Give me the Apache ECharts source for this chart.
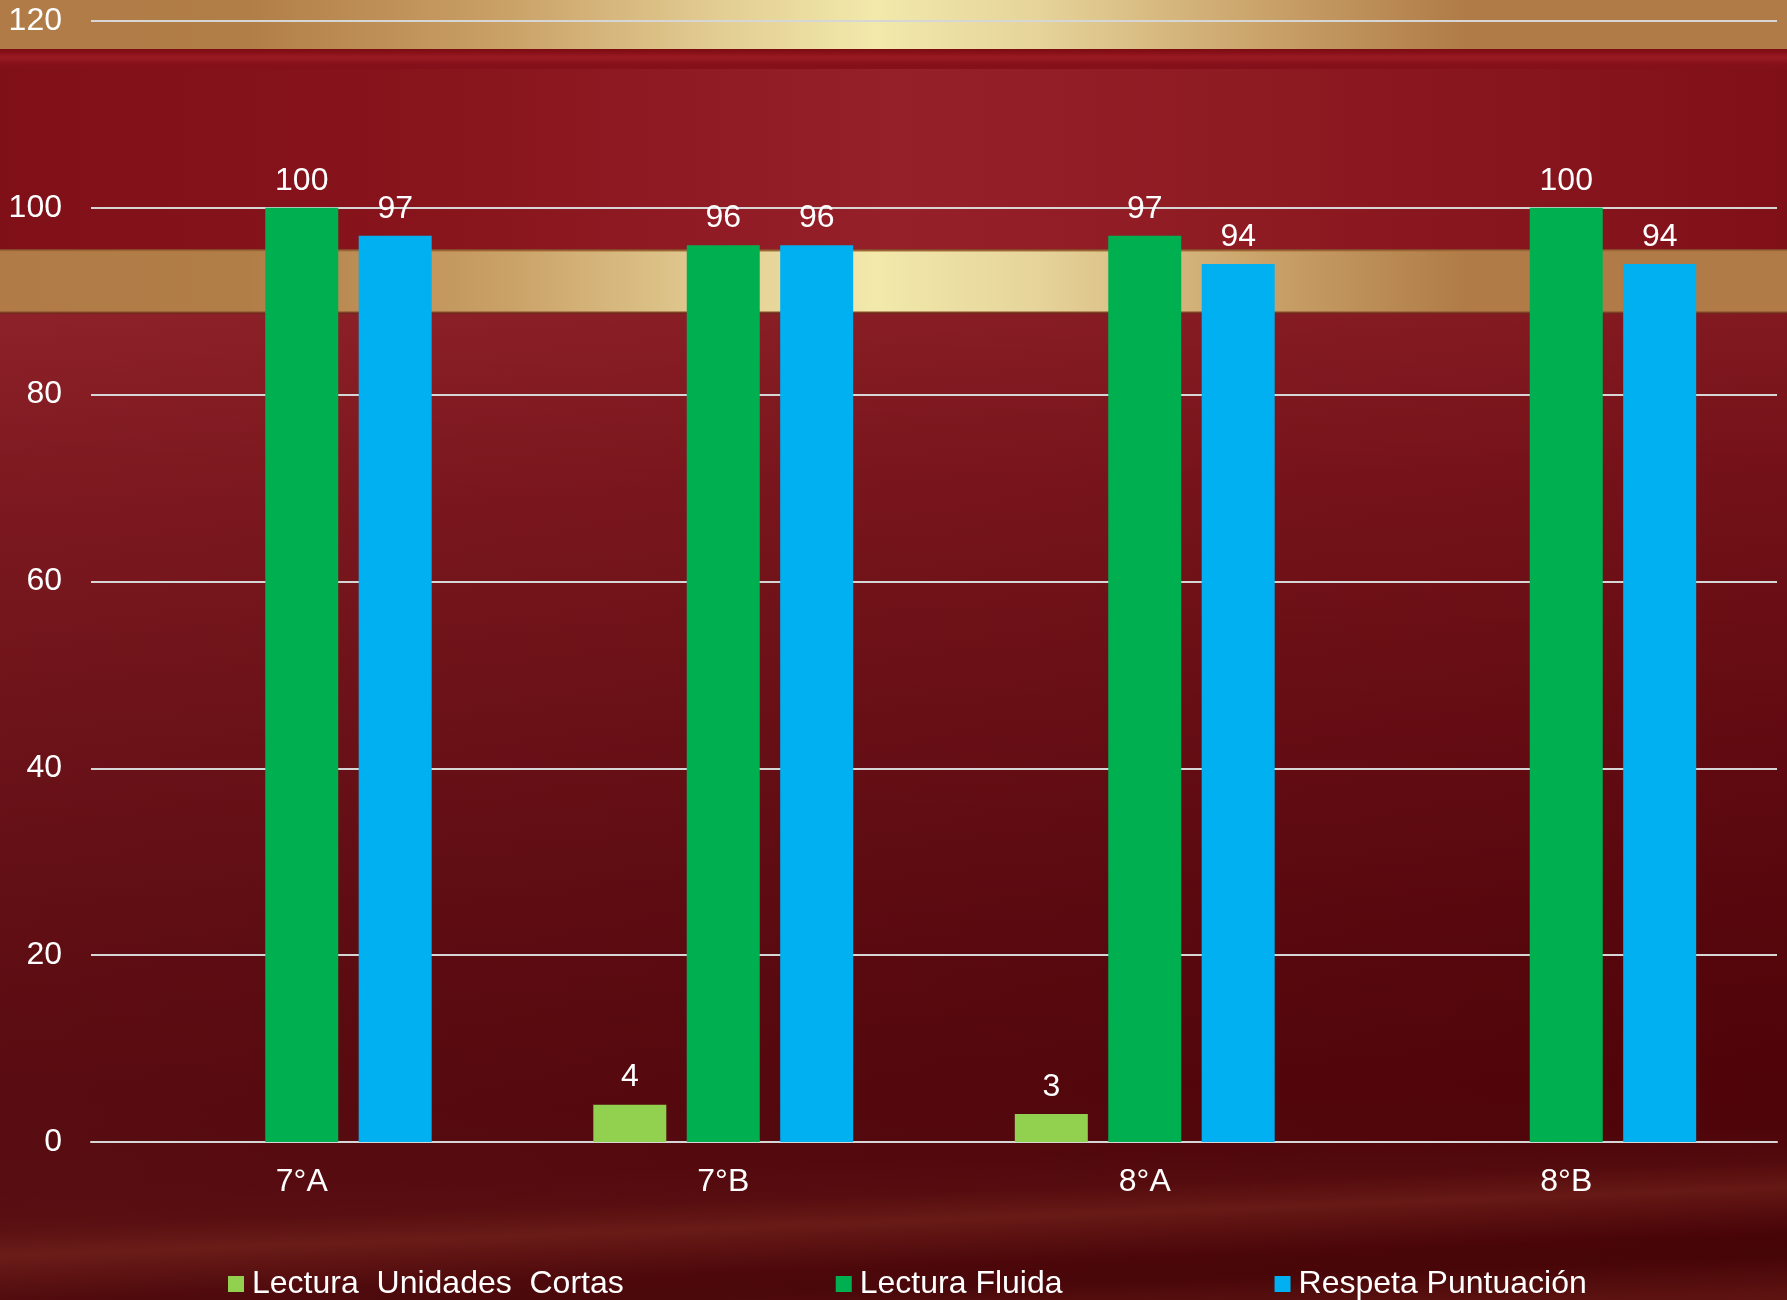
<!DOCTYPE html>
<html>
<head>
<meta charset="utf-8">
<script src="https://cdn.jsdelivr.net/npm/echarts@6/dist/echarts.min.js"></script>
<style>
html,body{margin:0;padding:0;width:1787px;height:1300px;overflow:hidden;position:relative;}
#bg{position:absolute;left:0;top:0;width:1787px;height:1300px;overflow:hidden;
background:
 linear-gradient(to right,#b07b46 0%,#b27e48 14%,#c9a066 28%,#e2cc92 40%,#f2e9ab 49%,#e6d49a 58%,#cba56c 70%,#b07b46 82%,#b07b46 100%) 0 0/100% 49px no-repeat,
 linear-gradient(to bottom,#7a0c12 0,#8a1119 4px,#9a1a22 8px,#84101a 16px,#84101a 100%) 0 49px/100% 20px no-repeat,
 linear-gradient(to bottom,#7a3a20 0,#a8733f 2px,transparent 3px,transparent 62px,#8a4a2a 63px,#6b1a18 65px) 0 249px/100% 65px no-repeat,
 linear-gradient(to right,#b07b46 0%,#b27e48 14%,#c9a066 28%,#e2cc92 40%,#f2e9ab 49%,#e6d49a 58%,#cba56c 70%,#b07b46 82%,#b07b46 100%) 0 249px/100% 65px no-repeat,
 linear-gradient(to right,#801018 0%,#88141c 25%,#96202a 50%,#8e1a22 70%,#801018 100%) 0 69px/100% 180px no-repeat,
 linear-gradient(to right,rgba(255,255,255,0.03) 0%,rgba(0,0,0,0.06) 100%) 0 314px/100% 986px no-repeat,
 linear-gradient(to bottom,#8a1a22 314px,#7a1219 480px,#6a0c13 700px,#5c070d 900px,#540409 1080px,#52050a 1160px,#520608 1300px);
}
#streak{position:absolute;left:-80px;top:1100px;width:1947px;height:270px;transform:rotate(-2.2deg);transform-origin:50% 50%;
background:linear-gradient(to bottom,rgba(0,0,0,0) 0%,rgba(0,0,0,0) 22%,rgba(100,26,22,0.25) 35%,rgba(126,44,32,0.5) 45%,rgba(110,34,26,0.3) 53%,rgba(50,0,4,0.2) 62%,rgba(40,0,2,0.2) 70%,rgba(110,36,28,0.35) 82%,rgba(122,42,30,0.45) 90%,rgba(122,42,30,0.45) 100%);}
#main{position:absolute;left:0;top:0;width:1787px;height:1300px;}
</style>
</head>
<body>
<div id="bg"><div id="streak"></div></div>
<div id="main"></div>
<script>
var categories = ['7°A', '7°B', '8°A', '8°B'];
var seriesNames = ['Lectura  Unidades  Cortas', 'Lectura Fluida', 'Respeta Puntuación'];
var lecturaUnidadesCortas = [null, 4, 3, null];
var lecturaFluida = [100, 96, 97, 100];
var respetaPuntuacion = [97, 96, 94, 94];
var yTicks = [0, 20, 40, 60, 80, 100, 120];

var FONT = "'Liberation Sans', Arial, sans-serif";
var chart = echarts.init(document.getElementById('main'), null, {renderer: 'canvas'});

function mkSeries(name, data, color) {
  return {
    name: name,
    type: 'bar',
    data: data,
    barWidth: 73,
    barGap: '28%',
    itemStyle: {color: color},
    label: {
      show: true,
      position: 'top',
      distance: 11,
      color: '#ffffff',
      fontSize: 32,
      fontFamily: FONT
    }
  };
}

chart.setOption({
  backgroundColor: 'transparent',
  animation: false,
  textStyle: {fontFamily: FONT},
  grid: {left: 91, right: 10, top: 21, bottom: 158, containLabel: false},
  legend: {
    data: seriesNames,
    left: 228,
    top: 1268,
    padding: 0,
    itemWidth: 16,
    itemHeight: 16,
    itemGap: 212,
    icon: 'rect',
    textStyle: {color: '#ffffff', fontSize: 32, fontFamily: FONT, padding: [0, 0, 0, 3]}
  },
  xAxis: {
    type: 'category',
    data: categories,
    axisLine: {show: true, lineStyle: {color: '#d6d6d6', width: 2}},
    axisTick: {show: false},
    axisLabel: {color: '#ffffff', fontSize: 32, fontFamily: FONT, margin: 24}
  },
  yAxis: {
    type: 'value',
    min: yTicks[0],
    max: yTicks[yTicks.length - 1],
    interval: 20,
    axisLine: {show: false},
    axisTick: {show: false},
    axisLabel: {color: '#ffffff', fontSize: 32, fontFamily: FONT, margin: 29},
    splitLine: {show: true, lineStyle: {color: '#d6d6d6', width: 2}}
  },
  series: [
    mkSeries(seriesNames[0], lecturaUnidadesCortas, '#92d050'),
    mkSeries(seriesNames[1], lecturaFluida, '#00b050'),
    mkSeries(seriesNames[2], respetaPuntuacion, '#00b0f0')
  ]
});
</script>
</body>
</html>
